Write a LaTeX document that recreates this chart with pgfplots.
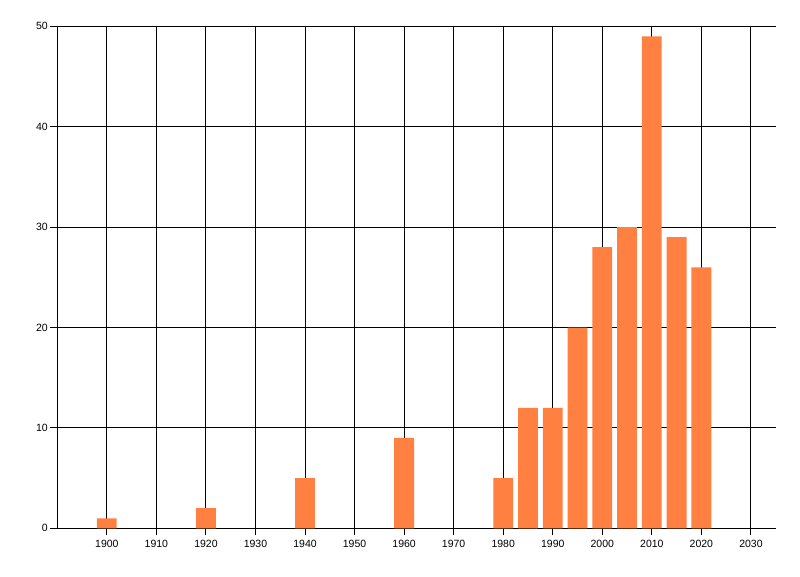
\documentclass[border=0pt]{standalone}
\usepackage{pgfplots}
\pgfplotsset{compat=1.18}
\usepackage{fontspec}
\setmainfont{Liberation Sans}
\definecolor{barc}{RGB}{255,128,64}
\begin{document}
\begin{tikzpicture}[x=1pt,y=1pt]
\path[use as bounding box] (0,0) rectangle (800,576);
\begin{axis}[
  at={(57.3pt,47.7pt)}, anchor=south west,
  scale only axis, width=718.4pt, height=502pt,
  xmin=1890, xmax=2035, ymin=0, ymax=50,
  xtick={1900,1910,...,2030}, ytick={0,10,...,50},
  axis x line*=bottom, axis y line*=left,
  axis line style={black, line width=1pt, -},
  grid=major, major grid style={black, line width=1pt},
  tick align=outside, major tick length=7pt,
  tick style={black, line width=1pt},
  /pgf/number format/1000 sep={},
  /pgf/number format/assume math mode=true,
  tick label style={font=\fontsize{10.5}{12}\selectfont},
  xticklabel style={yshift=-1pt},
  yticklabel style={xshift=1pt},
]
\addplot[ybar, bar width=19.8pt, fill=barc, draw=none, bar shift=0pt] coordinates {
(1900,1) (1920,2) (1940,5) (1960,9) (1980,5) (1985,12) (1990,12) (1995,20) (2000,28) (2005,30) (2010,49) (2015,29) (2020,26)
};
\end{axis}
\end{tikzpicture}
\end{document}
